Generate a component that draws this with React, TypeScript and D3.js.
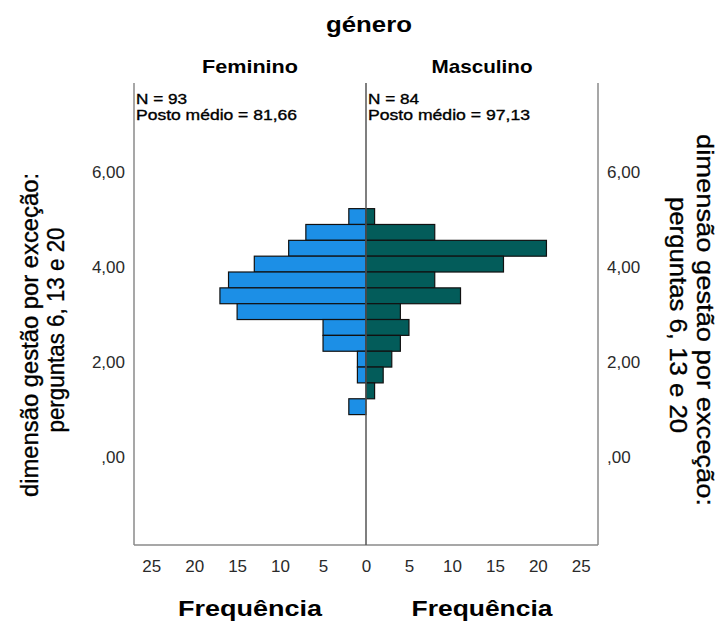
import * as d3 from "d3";
import { useEffect, useRef } from "react";

// bin centres (value of the mean score) from top bar to bottom bar
const bins = [5.0, 4.667, 4.333, 4.0, 3.667, 3.333, 3.0, 2.667, 2.333, 2.0, 1.667, 1.333, 1.0];
const feminino = [2, 7, 9, 13, 16, 17, 15, 5, 5, 1, 1, 0, 2];
const masculino = [1, 8, 21, 16, 8, 11, 4, 5, 4, 3, 2, 1, 0];

const yTicks = [0, 2, 4, 6];
const xTicksLeft = [0, 5, 10, 15, 20, 25];
const xTicksRight = [5, 10, 15, 20, 25];

const groups = ["Feminino", "Masculino"];
const nLabels = ["N = 93", "N = 84"];
const rankLabels = ["Posto médio = 81,66", "Posto médio = 97,13"];

const W = 722;
const H = 624;
const FONT = "Arial, 'Liberation Sans', sans-serif";

const App = () => {
    const ref = useRef(null);

    useEffect(() => {
        const svg = d3.select(ref.current);
        svg.selectAll("*").remove();

        const top = 83, bottom = 545, left = 134, mid = 366, right = 598;

        const y = d3.scaleLinear().domain([-1.91, 7.81]).range([bottom, top]);
        const xL = d3.scaleLinear().domain([0, 27]).range([mid, left]);
        const xR = d3.scaleLinear().domain([0, 27]).range([mid, right]);
        const half = 1 / 6;

        const fmt = (v) => v === 0 ? ",00" : d3.format(".2f")(v).replace(".", ",");

        // frame
        const frame = svg.append("g").attr("fill", "none");
        frame.append("line").attr("x1", left).attr("x2", left).attr("y1", top).attr("y2", bottom)
            .attr("stroke", "#8a8a8a").attr("stroke-width", 1.5);
        frame.append("line").attr("x1", right).attr("x2", right).attr("y1", top).attr("y2", bottom)
            .attr("stroke", "#8a8a8a").attr("stroke-width", 1.5);
        frame.append("line").attr("x1", left).attr("x2", right).attr("y1", bottom).attr("y2", bottom)
            .attr("stroke", "#8a8a8a").attr("stroke-width", 1.5);

        // bars
        const rows = bins.map((b, i) => ({ b, f: feminino[i], m: masculino[i] }));
        svg.append("g").selectAll("rect")
            .data(rows.filter(d => d.f > 0))
            .enter().append("rect")
            .attr("x", d => xL(d.f))
            .attr("y", d => y(d.b + half))
            .attr("width", d => mid - xL(d.f))
            .attr("height", d => y(d.b - half) - y(d.b + half))
            .attr("fill", "#1c8fe6")
            .attr("stroke", "#111")
            .attr("stroke-width", 1.2);
        svg.append("g").selectAll("rect")
            .data(rows.filter(d => d.m > 0))
            .enter().append("rect")
            .attr("x", mid)
            .attr("y", d => y(d.b + half))
            .attr("width", d => xR(d.m) - mid)
            .attr("height", d => y(d.b - half) - y(d.b + half))
            .attr("fill", "#035c5a")
            .attr("stroke", "#111")
            .attr("stroke-width", 1.2);

        // centre line
        svg.append("line").attr("x1", mid).attr("x2", mid).attr("y1", top).attr("y2", bottom)
            .attr("stroke", "#555").attr("stroke-width", 1.5);

        // axes
        const styleAxis = (g) => {
            g.select(".domain").remove();
            g.selectAll("text").attr("font-size", 17).attr("font-family", FONT).attr("fill", "#2a2a2a");
        };
        svg.append("g").attr("transform", `translate(${left},0)`)
            .call(d3.axisLeft(y).tickValues(yTicks).tickFormat(fmt).tickSize(0).tickPadding(9))
            .call(styleAxis)
            .selectAll("text").attr("dy", "0.48em");
        svg.append("g").attr("transform", `translate(${right},0)`)
            .call(d3.axisRight(y).tickValues(yTicks).tickFormat(fmt).tickSize(0).tickPadding(9))
            .call(styleAxis)
            .selectAll("text").attr("dy", "0.48em");
        svg.append("g").attr("transform", `translate(0,${bottom})`)
            .call(d3.axisBottom(xL).tickValues(xTicksLeft).tickFormat(d3.format("d")).tickSize(0).tickPadding(15))
            .call(styleAxis);
        svg.append("g").attr("transform", `translate(0,${bottom})`)
            .call(d3.axisBottom(xR).tickValues(xTicksRight).tickFormat(d3.format("d")).tickSize(0).tickPadding(15))
            .call(styleAxis);

        const txt = (x, yy, s, size, opts = {}) => {
            const t = svg.append("text")
                .attr("x", x).attr("y", yy)
                .attr("font-family", FONT)
                .attr("font-size", size)
                .attr("font-weight", opts.bold ? "bold" : "normal")
                .attr("text-anchor", opts.anchor || "start")
                .attr("fill", "#000")
                .text(s);
            if (opts.len) t.attr("textLength", opts.len).attr("lengthAdjust", "spacingAndGlyphs");
            if (opts.rot) t.attr("transform", `rotate(${opts.rot},${x},${yy})`);
            if (opts.heavy) t.attr("stroke", "#000").attr("stroke-width", 0.35);
            return t;
        };

        // titles
        txt(369, 32, "género", 22, { bold: true, anchor: "middle", len: 86 });
        txt(250, 73, groups[0], 19, { bold: true, anchor: "middle", len: 96 });
        txt(482, 73, groups[1], 19, { bold: true, anchor: "middle", len: 101 });

        // panel stats
        txt(136, 104, nLabels[0], 14.5, { len: 51, heavy: true });
        txt(136, 120, rankLabels[0], 14.5, { len: 161, heavy: true });
        txt(368, 104, nLabels[1], 14.5, { len: 51, heavy: true });
        txt(368, 120, rankLabels[1], 14.5, { len: 162, heavy: true });

        // x titles
        txt(250, 616, "Frequência", 22, { bold: true, anchor: "middle", len: 144 });
        txt(482, 616, "Frequência", 22, { bold: true, anchor: "middle", len: 141 });

        // y titles
        txt(38, 335, "dimensão gestão por exceção:", 23, { anchor: "middle", rot: -90, len: 324, heavy: true });
        txt(64, 330, "perguntas 6, 13 e 20", 23, { anchor: "middle", rot: -90, len: 205, heavy: true });
        txt(697, 320, "dimensão gestão por exceção:", 24.5, { anchor: "middle", rot: 90, len: 372, heavy: true });
        txt(670, 315, "perguntas 6, 13 e 20", 24.5, { anchor: "middle", rot: 90, len: 236, heavy: true });
    }, []);

    return (
        <svg ref={ref} width={W} height={H}
            style={{ position: "absolute", left: 0, top: 0, background: "#fff" }} />
    );
};

export default App;
